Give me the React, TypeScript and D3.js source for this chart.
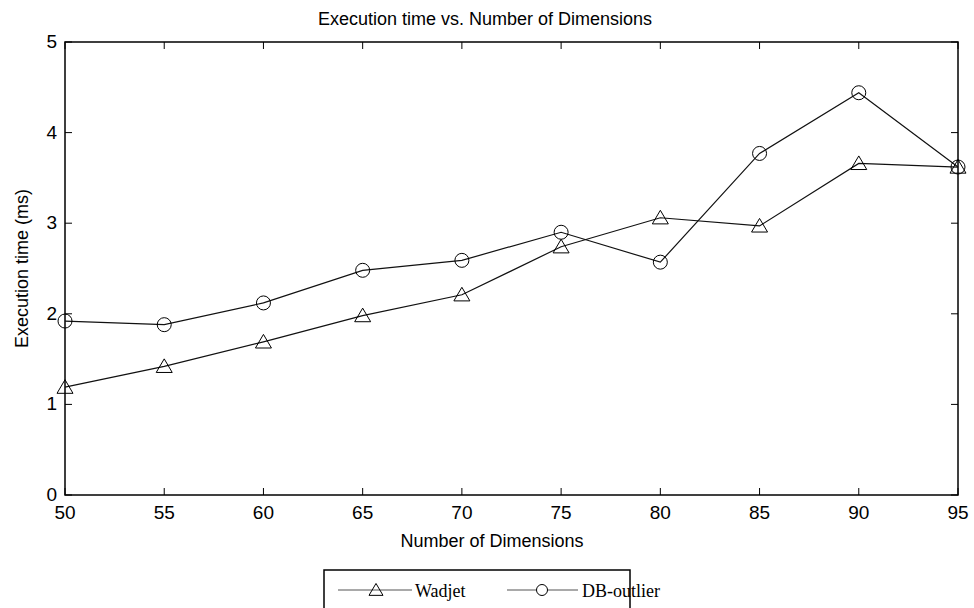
import React from "react";
import * as d3 from "d3";

const dims = [50, 55, 60, 65, 70, 75, 80, 85, 90, 95];
const wadjet = [1.19, 1.42, 1.69, 1.98, 2.21, 2.74, 3.06, 2.97, 3.66, 3.62];
const dbOutlier = [1.92, 1.88, 2.12, 2.48, 2.59, 2.9, 2.57, 3.77, 4.44, 3.62];
const xTicks = [50, 55, 60, 65, 70, 75, 80, 85, 90, 95];
const yTicks = [0, 1, 2, 3, 4, 5];

const W = 974, H = 608;
const L = 65, R = 958, T = 42, B = 495;
const font = "'Liberation Sans', Arial, sans-serif";

function Triangle({ x, y, s = 8 }: { x: number; y: number; s?: number }) {
  const h = s * 1.7;
  const pts = `${x},${y - h * 0.55} ${x - s},${y + h * 0.45} ${x + s},${y + h * 0.45}`;
  return <polygon points={pts} fill="none" stroke="#000" strokeWidth={1} />;
}

export default function App() {
  const x = d3.scaleLinear().domain([50, 95]).range([L, R]);
  const y = d3.scaleLinear().domain([0, 5]).range([B, T]);
  const line = d3
    .line<number>()
    .x((_, i) => x(dims[i]))
    .y((d) => y(d));
  const tk = 7;
  return (
    <svg width={W} height={H} style={{ position: "absolute", left: 0, top: 0, background: "#fff" }}>
      <rect x={0} y={0} width={W} height={H} fill="#fff" />
      <text x={485} y={25} textAnchor="middle" fontFamily={font} fontSize={18}>
        Execution time vs. Number of Dimensions
      </text>
      {/* ticks */}
      {xTicks.map((t) => (
        <g key={"xt" + t}>
          <line x1={x(t)} x2={x(t)} y1={B} y2={B - tk} stroke="#000" strokeWidth={1} />
          <line x1={x(t)} x2={x(t)} y1={T} y2={T + tk} stroke="#000" strokeWidth={1} />
          <text x={x(t)} y={519} textAnchor="middle" fontFamily={font} fontSize={19}>
            {t}
          </text>
        </g>
      ))}
      {yTicks.map((t) => (
        <g key={"yt" + t}>
          <line x1={L} x2={L + tk} y1={y(t)} y2={y(t)} stroke="#000" strokeWidth={1} />
          <line x1={R} x2={R - tk} y1={y(t)} y2={y(t)} stroke="#000" strokeWidth={1} />
          <text x={57} y={y(t) + 6} textAnchor="end" fontFamily={font} fontSize={19}>
            {t}
          </text>
        </g>
      ))}
      <rect x={L} y={T} width={R - L} height={B - T} fill="none" stroke="#000" strokeWidth={1.5} />
      <text x={492} y={547} textAnchor="middle" fontFamily={font} fontSize={18}>
        Number of Dimensions
      </text>
      <text
        transform={`translate(28,${(T + B) / 2}) rotate(-90)`}
        textAnchor="middle"
        fontFamily={font}
        fontSize={18}
      >
        Execution time (ms)
      </text>
      {/* series */}
      <path d={line(wadjet) || ""} fill="none" stroke="#111" strokeWidth={1.2} />
      <path d={line(dbOutlier) || ""} fill="none" stroke="#111" strokeWidth={1.2} />
      {wadjet.map((v, i) => (
        <Triangle key={"w" + i} x={x(dims[i])} y={y(v)} />
      ))}
      {dbOutlier.map((v, i) => (
        <circle key={"c" + i} cx={x(dims[i])} cy={y(v)} r={7} fill="none" stroke="#000" strokeWidth={1} />
      ))}
      {/* legend */}
      <rect x={324} y={570} width={306} height={50} fill="#fff" stroke="#000" strokeWidth={1.5} />
      <line x1={338} x2={412} y1={590} y2={590} stroke="#555" strokeWidth={1.2} />
      <Triangle x={376} y={590} s={7} />
      <text x={415} y={597} fontFamily="'Liberation Serif', 'Times New Roman', serif" fontSize={18}>
        Wadjet
      </text>
      <line x1={507} x2={578} y1={590} y2={590} stroke="#555" strokeWidth={1.2} />
      <circle cx={542} cy={590} r={5.5} fill="#fff" stroke="#000" strokeWidth={1} />
      <text x={582} y={597} fontFamily="'Liberation Serif', 'Times New Roman', serif" fontSize={18}>
        DB-outlier
      </text>
    </svg>
  );
}
